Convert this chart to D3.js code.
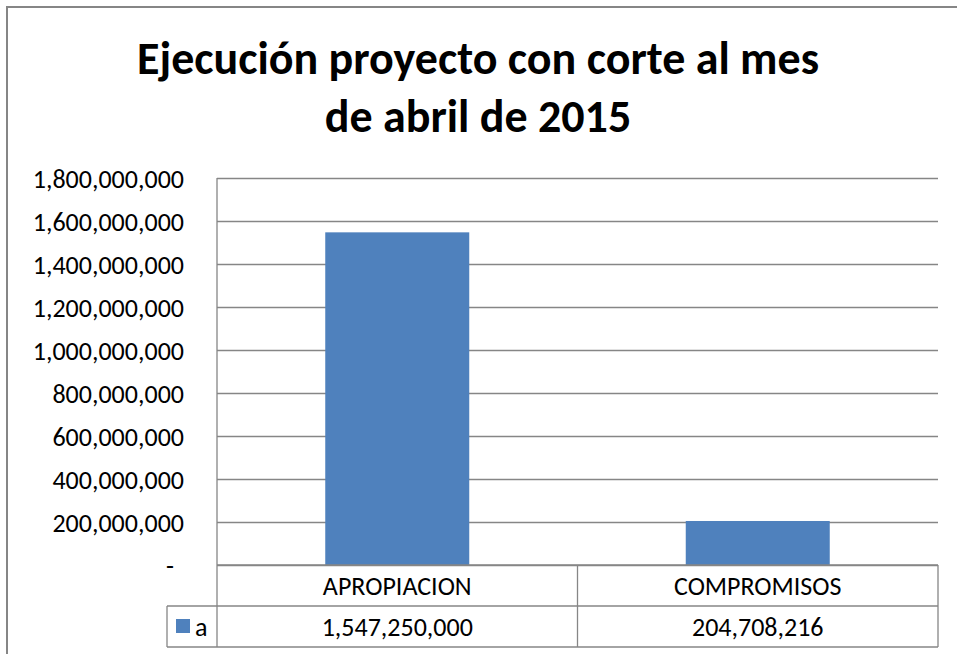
<!DOCTYPE html>
<meta charset="utf-8">
<script src="https://d3js.org/d3.v7.min.js"></script>
<style>
  body { margin: 0; background: #fff; }
  text { font-family: Carlito, Lato, "Open Sans", sans-serif; fill: #000; }
</style>
<body>
<div id="chart"></div>
<script>
// data
var categories = ["APROPIACION", "COMPROMISOS"];
var values = [1547250000, 204708216];
var seriesName = "a";
var titleLines = ["Ejecución proyecto con corte al mes", "de abril de 2015"];
var yTicks = [0, 200000000, 400000000, 600000000, 800000000, 1000000000, 1200000000, 1400000000, 1600000000, 1800000000];

var W = 957, H = 654;
var plot = { left: 217, right: 938, top: 178, bottom: 565 };
var rowH = 41;
var barColor = "#4F81BD", lineColor = "#868686";
var labelSize = "26px";

var svg = d3.select("#chart").append("svg")
    .attr("width", W)
    .attr("height", H);

// outer chart border (runs off the right and bottom of the picture)
svg.append("rect")
    .attr("x", 7).attr("y", 7)
    .attr("width", W).attr("height", H)
    .attr("fill", "none")
    .attr("stroke", lineColor)
    .attr("stroke-width", 2);

// title
svg.append("g").selectAll("text")
    .data(titleLines)
    .enter().append("text")
    .attr("x", 478)
    .attr("y", function(d, i) { return 74 + i * 58; })
    .attr("text-anchor", "middle")
    .style("font-size", "46px")
    .style("font-weight", "bold")
    .text(function(d) { return d; });

var x = d3.scaleBand()
    .domain(categories)
    .range([plot.left, plot.right])
    .paddingInner(0)
    .paddingOuter(0);

var y = d3.scaleLinear()
    .domain([0, 1800000000])
    .range([plot.bottom, plot.top]);

var fmt = d3.format(",");

// gridlines + y labels
var yAxis = d3.axisLeft(y)
    .tickValues(yTicks)
    .tickSize(-(plot.right - plot.left))
    .tickPadding(33)
    .tickFormat(function(d) { return d === 0 ? "-" : fmt(d); });

var gy = svg.append("g")
    .attr("transform", "translate(" + plot.left + ",0)")
    .call(yAxis);
gy.select(".domain").remove();
gy.selectAll(".tick line").attr("stroke", lineColor).attr("stroke-width", 1.3);
gy.selectAll(".tick text")
    .style("font-size", labelSize)
    .attr("fill", "#000")
    .attr("dy", "0.35em");
gy.selectAll(".tick").filter(function(d) { return d === 0; }).select("text")
    .attr("dx", "-10");

// bars
var barW = 144;
svg.append("g").selectAll("rect")
    .data(values)
    .enter().append("rect")
    .attr("x", function(d, i) { return x(categories[i]) + x.bandwidth() / 2 - barW / 2; })
    .attr("y", function(d) { return y(d); })
    .attr("width", barW)
    .attr("height", function(d) { return y(0) - y(d); })
    .attr("fill", barColor);

// value axis line
svg.append("line")
    .attr("x1", plot.left).attr("x2", plot.left)
    .attr("y1", plot.top).attr("y2", plot.bottom + 2 * rowH)
    .attr("stroke", lineColor).attr("stroke-width", 1.3);

// data table
var tbl = svg.append("g").attr("stroke", lineColor).attr("stroke-width", 1.3);
tbl.append("line").attr("x1", plot.left).attr("x2", plot.right).attr("y1", plot.bottom).attr("y2", plot.bottom);
tbl.append("line").attr("x1", 167).attr("x2", plot.right).attr("y1", plot.bottom + rowH).attr("y2", plot.bottom + rowH);
tbl.append("line").attr("x1", 167).attr("x2", plot.right).attr("y1", plot.bottom + 2 * rowH).attr("y2", plot.bottom + 2 * rowH);
tbl.append("line").attr("x1", 167).attr("x2", 167).attr("y1", plot.bottom + rowH).attr("y2", plot.bottom + 2 * rowH);
tbl.selectAll(".sep")
    .data(categories.slice(1).concat(["end"]))
    .enter().append("line")
    .attr("x1", function(d) { return d === "end" ? plot.right : x(d); })
    .attr("x2", function(d) { return d === "end" ? plot.right : x(d); })
    .attr("y1", plot.bottom)
    .attr("y2", plot.bottom + 2 * rowH);

svg.append("g").selectAll("text")
    .data(categories)
    .enter().append("text")
    .attr("x", function(d) { return x(d) + x.bandwidth() / 2; })
    .attr("y", plot.bottom + rowH / 2)
    .attr("dy", "0.35em")
    .attr("text-anchor", "middle")
    .style("font-size", labelSize)
    .text(function(d) { return d; });

svg.append("g").selectAll("text")
    .data(values)
    .enter().append("text")
    .attr("x", function(d, i) { return x(categories[i]) + x.bandwidth() / 2; })
    .attr("y", plot.bottom + rowH * 1.5)
    .attr("dy", "0.35em")
    .attr("text-anchor", "middle")
    .style("font-size", labelSize)
    .text(function(d) { return fmt(d); });

// legend key in the table
svg.append("rect")
    .attr("x", 176).attr("y", 619)
    .attr("width", 14).attr("height", 14)
    .attr("fill", barColor);
svg.append("text")
    .attr("x", 195).attr("y", plot.bottom + rowH * 1.5)
    .attr("dy", "0.35em")
    .style("font-size", labelSize)
    .text(seriesName);
</script>
</body>
